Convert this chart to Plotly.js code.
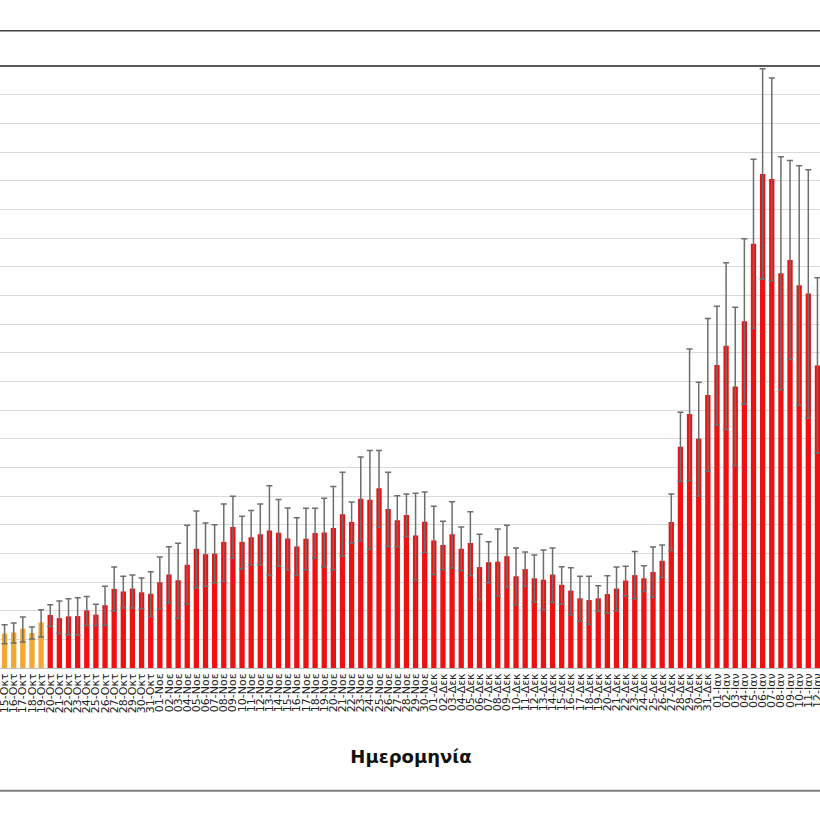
<!DOCTYPE html>
<html>
<head>
<meta charset="utf-8">
<script src="https://cdn.plot.ly/plotly-3.0.1.min.js"></script>
<style>
  html, body { margin: 0; padding: 0; background: #ffffff; overflow: hidden; width: 820px; height: 820px; }
  #chart { position: absolute; left: -98px; top: 0; width: 1020px; height: 820px; }
</style>
</head>
<body>
<div id="chart"></div>
<script>
// Dates (categories / tick labels)
const dates = [
  "15-Οκτ","16-Οκτ","17-Οκτ","18-Οκτ","19-Οκτ","20-Οκτ","21-Οκτ","22-Οκτ","23-Οκτ","24-Οκτ",
  "25-Οκτ","26-Οκτ","27-Οκτ","28-Οκτ","29-Οκτ","30-Οκτ","31-Οκτ","01-Νοε","02-Νοε","03-Νοε",
  "04-Νοε","05-Νοε","06-Νοε","07-Νοε","08-Νοε","09-Νοε","10-Νοε","11-Νοε","12-Νοε","13-Νοε",
  "14-Νοε","15-Νοε","16-Νοε","17-Νοε","18-Νοε","19-Νοε","20-Νοε","21-Νοε","22-Νοε","23-Νοε",
  "24-Νοε","25-Νοε","26-Νοε","27-Νοε","28-Νοε","29-Νοε","30-Νοε","01-Δεκ","02-Δεκ","03-Δεκ",
  "04-Δεκ","05-Δεκ","06-Δεκ","07-Δεκ","08-Δεκ","09-Δεκ","10-Δεκ","11-Δεκ","12-Δεκ","13-Δεκ",
  "14-Δεκ","15-Δεκ","16-Δεκ","17-Δεκ","18-Δεκ","19-Δεκ","20-Δεκ","21-Δεκ","22-Δεκ","23-Δεκ",
  "24-Δεκ","25-Δεκ","26-Δεκ","27-Δεκ","28-Δεκ","29-Δεκ","30-Δεκ","31-Δεκ","01-Ιαν","02-Ιαν",
  "03-Ιαν","04-Ιαν","05-Ιαν","06-Ιαν","07-Ιαν","08-Ιαν","09-Ιαν","10-Ιαν","11-Ιαν","12-Ιαν"
];

// Estimates (bar heights)
const values = [
  1.20,1.24,1.37,1.22,1.59,1.85,1.74,1.80,1.81,2.01,
  1.86,2.19,2.76,2.67,2.77,2.64,2.59,2.99,3.26,3.06,
  3.60,4.16,3.97,3.99,4.40,4.92,4.40,4.56,4.67,4.80,
  4.72,4.52,4.24,4.51,4.71,4.73,4.88,5.36,5.09,5.90,
  5.87,6.27,5.55,5.15,5.34,4.62,5.10,4.45,4.29,4.67,
  4.16,4.36,3.52,3.69,3.71,3.90,3.20,3.45,3.13,3.08,
  3.26,2.90,2.70,2.43,2.37,2.43,2.58,2.77,3.05,3.24,
  3.13,3.35,3.74,5.09,7.72,8.86,8.00,9.52,10.57,11.24,
  9.82,12.10,14.80,17.23,17.06,13.77,14.23,13.35,13.06,10.55
];

// Upper bounds of the intervals
const upper = [
  1.51,1.57,1.78,1.43,2.03,2.21,2.34,2.42,2.45,2.49,
  2.22,2.85,3.52,3.20,3.24,3.14,3.36,3.87,4.23,4.35,
  4.98,5.48,5.06,5.00,5.72,5.99,5.29,5.49,5.72,6.36,
  5.88,5.58,5.24,5.57,5.57,5.92,6.33,6.83,5.79,7.36,
  7.59,7.59,6.83,6.01,6.07,6.10,6.14,5.64,5.12,5.80,
  4.92,5.45,4.67,4.40,4.85,4.98,4.19,4.05,3.94,4.12,
  4.19,3.53,3.50,3.20,3.20,2.87,3.22,3.52,3.55,4.06,
  3.57,4.22,4.29,6.07,8.92,11.13,9.97,12.19,12.62,14.14,
  12.58,14.97,17.75,20.90,20.58,17.83,17.70,17.52,17.38,13.61
];

// Lower bounds of the intervals
const lower = [
  0.85,0.87,0.91,1.01,1.08,1.45,1.20,1.16,1.14,1.48,
  1.47,1.49,1.99,2.09,2.09,2.07,1.80,2.07,2.27,1.73,
  2.23,2.80,2.85,2.97,3.03,3.84,3.45,3.60,3.60,3.23,
  3.55,3.43,3.23,3.43,3.84,3.53,3.43,3.90,4.37,4.44,
  4.14,4.90,4.24,4.23,4.59,3.08,4.03,3.26,3.43,3.49,
  3.40,3.22,2.38,2.97,2.52,2.81,2.21,2.85,2.30,2.03,
  2.29,2.22,1.86,1.63,1.53,1.98,1.92,1.99,2.52,2.42,
  2.67,2.47,3.16,4.10,6.51,6.54,6.00,6.86,8.48,8.32,
  7.06,9.20,11.85,13.56,13.52,9.71,10.76,9.17,8.72,7.50
];

// Number of leading (provisional) days drawn in orange
const provisionalDays = 5;

const ORANGE = '#F2A832';
const RED = '#EC1212';

function part(arr, a, b) { return arr.slice(a, b); }
function errTrace(x, v, up, lo, color) {
  return {
    type: 'bar',
    x: x,
    y: v,
    marker: { color: color, line: { width: 0 } },
    error_y: {
      type: 'data',
      symmetric: false,
      array: v.map((val, i) => up[i] - val),
      arrayminus: v.map((val, i) => val - lo[i]),
      color: '#6e6e6e',
      thickness: 1.5,
      width: 3
    },
    hoverinfo: 'skip',
    showlegend: false
  };
}

const n = dates.length;
const data = [
  errTrace(part(dates,0,provisionalDays), part(values,0,provisionalDays), part(upper,0,provisionalDays), part(lower,0,provisionalDays), ORANGE),
  errTrace(part(dates,provisionalDays,n), part(values,provisionalDays,n), part(upper,provisionalDays,n), part(lower,provisionalDays,n), RED)
];

const layout = {
  width: 1020,
  height: 820,
  margin: { l: 98, r: 100, t: 66, b: 152 },
  paper_bgcolor: '#ffffff',
  plot_bgcolor: '#ffffff',
  barmode: 'overlay',
  bargap: 0.42,
  showlegend: false,
  font: { family: 'DejaVu Sans, sans-serif', color: '#222222' },
  xaxis: {
    type: 'category',
    categoryorder: 'array',
    categoryarray: dates,
    range: [-0.5, n - 0.5],
    tickmode: 'array',
    tickvals: dates,
    ticktext: dates,
    tickangle: -90,
    tickfont: { family: 'DejaVu Sans, sans-serif', size: 11, color: '#222222' },
    ticks: '',
    showgrid: false,
    showline: true,
    linecolor: '#bfbfbf',
    linewidth: 1,
    title: {
      text: 'Ημερομηνία',
      font: { family: 'DejaVu Sans, sans-serif', size: 18, color: '#111111', weight: 'bold' },
      standoff: 38
    },
    automargin: false
  },
  yaxis: {
    range: [0, 21],
    dtick: 1,
    showgrid: true,
    gridcolor: '#d9d9d9',
    gridwidth: 1,
    zeroline: false,
    showline: false,
    ticks: '',
    showticklabels: false,
    automargin: false
  },
  shapes: [
    { type: 'line', xref: 'paper', yref: 'paper', x0: -0.2, x1: 1.2, y0: 1, y1: 1,
      line: { color: '#595959', width: 2 } },
    { type: 'line', xref: 'paper', yref: 'paper', x0: -0.2, x1: 1.2, y0: 1.0585, y1: 1.0585,
      line: { color: '#404040', width: 1.5 } },
    { type: 'line', xref: 'paper', yref: 'paper', x0: -0.2, x1: 1.2, y0: -0.204, y1: -0.204,
      line: { color: '#7f7f7f', width: 2 } }
  ]
};

Plotly.newPlot('chart', data, layout, { staticPlot: true, displayModeBar: false });
</script>
</body>
</html>
